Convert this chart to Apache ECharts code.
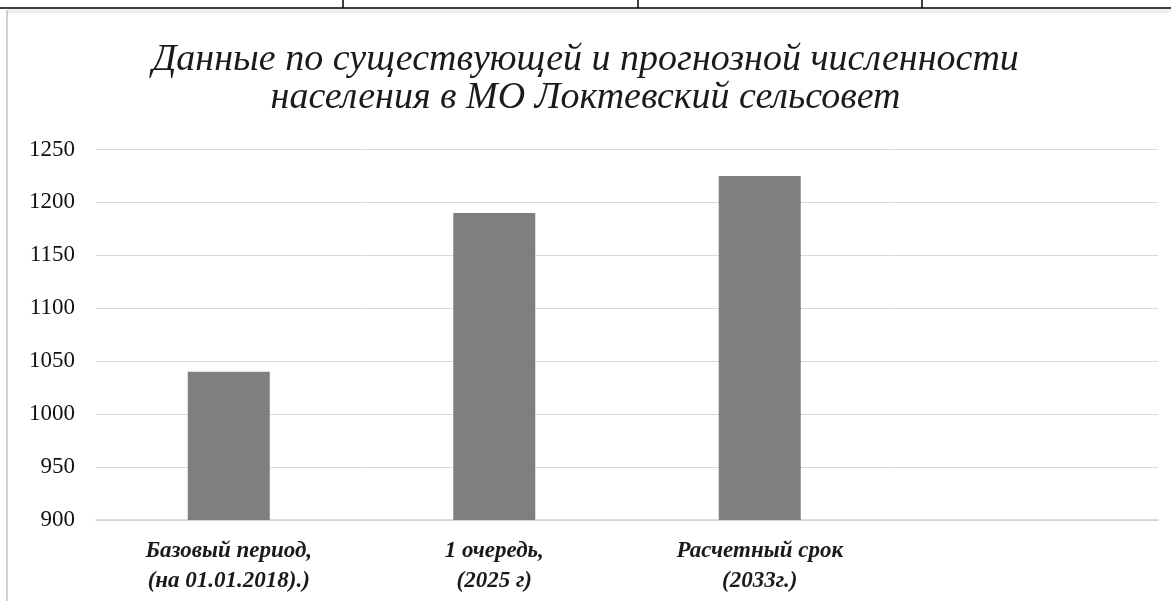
<!DOCTYPE html>
<html>
<head>
<meta charset="utf-8">
<script src="https://cdn.jsdelivr.net/npm/echarts@6/dist/echarts.min.js"></script>
<style>
html,body{margin:0;padding:0;background:#fff;}
#chart{width:1171px;height:601px;}
</style>
</head>
<body>
<div id="chart"></div>
<script>
var titleText = 'Данные по существующей и прогнозной численности\nнаселения в МО Локтевский сельсовет';
var categories = ['Базовый период,\n(на 01.01.2018).)', '1 очередь,\n(2025 г)', 'Расчетный срок\n(2033г.)', ''];
var population = [1040, 1190, 1225, null];
var tableValues = ['1040', '1190', '1225'];
var yTicks = {min: 900, max: 1250, interval: 50};

var chart = echarts.init(document.getElementById('chart'), null, {renderer: 'canvas'});
var serif = '"Liberation Serif", "DejaVu Serif", serif';

chart.setOption({
  backgroundColor: '#ffffff',
  animation: false,
  title: {
    text: titleText,
    left: 'center',
    top: 36,
    textStyle: {
      fontFamily: serif,
      fontStyle: 'italic',
      fontWeight: 'normal',
      fontSize: 38,
      lineHeight: 38,
      color: '#1a1a1a',
      align: 'center'
    }
  },
  grid: {left: 96, right: 13, top: 149.5, bottom: 81, containLabel: false},
  xAxis: {
    type: 'category',
    data: categories,
    axisLine: {show: true, lineStyle: {color: '#d0d0d0', width: 1.5}},
    axisTick: {show: false},
    axisLabel: {
      interval: 0,
      margin: 16,
      fontFamily: serif,
      fontStyle: 'italic',
      fontWeight: 'bold',
      fontSize: 23,
      lineHeight: 30,
      color: '#1a1a1a'
    }
  },
  yAxis: {
    type: 'value',
    min: yTicks.min,
    max: yTicks.max,
    interval: yTicks.interval,
    axisLine: {show: false},
    axisTick: {show: false},
    splitLine: {lineStyle: {color: '#d9d9d9', width: 1}},
    axisLabel: {
      margin: 21,
      fontFamily: serif,
      fontSize: 23,
      fontWeight: 'normal',
      color: '#111111',
      formatter: function (v) { return String(v); }
    }
  },
  series: [{
    type: 'bar',
    data: population,
    barWidth: 82,
    itemStyle: {color: '#7f7f7f'}
  }],
  graphic: [
    {type: 'line', shape: {x1: 0, y1: 8, x2: 1171, y2: 8}, style: {stroke: '#000', lineWidth: 1.5}},
    {type: 'line', shape: {x1: 343, y1: 0, x2: 343, y2: 8}, style: {stroke: '#000', lineWidth: 1.5}},
    {type: 'line', shape: {x1: 638, y1: 0, x2: 638, y2: 8}, style: {stroke: '#000', lineWidth: 1.5}},
    {type: 'line', shape: {x1: 922, y1: 0, x2: 922, y2: 8}, style: {stroke: '#000', lineWidth: 1.5}},
    {type: 'text', x: 490, y: 4, style: {text: tableValues[0], fontFamily: serif, fontSize: 16, fill: '#000', align: 'center', verticalAlign: 'bottom'}},
    {type: 'text', x: 780, y: 4, style: {text: tableValues[1], fontFamily: serif, fontSize: 16, fill: '#000', align: 'center', verticalAlign: 'bottom'}},
    {type: 'text', x: 1045, y: 4, style: {text: tableValues[2], fontFamily: serif, fontSize: 16, fill: '#000', align: 'center', verticalAlign: 'bottom'}},
    {type: 'rect', shape: {x: 8, y: 9, width: 1163, height: 4}, style: {fill: '#f0f0f0'}},
    {type: 'line', shape: {x1: 7, y1: 10, x2: 7, y2: 601}, style: {stroke: '#cfcfcf', lineWidth: 2}}
  ]
});
</script>
</body>
</html>
